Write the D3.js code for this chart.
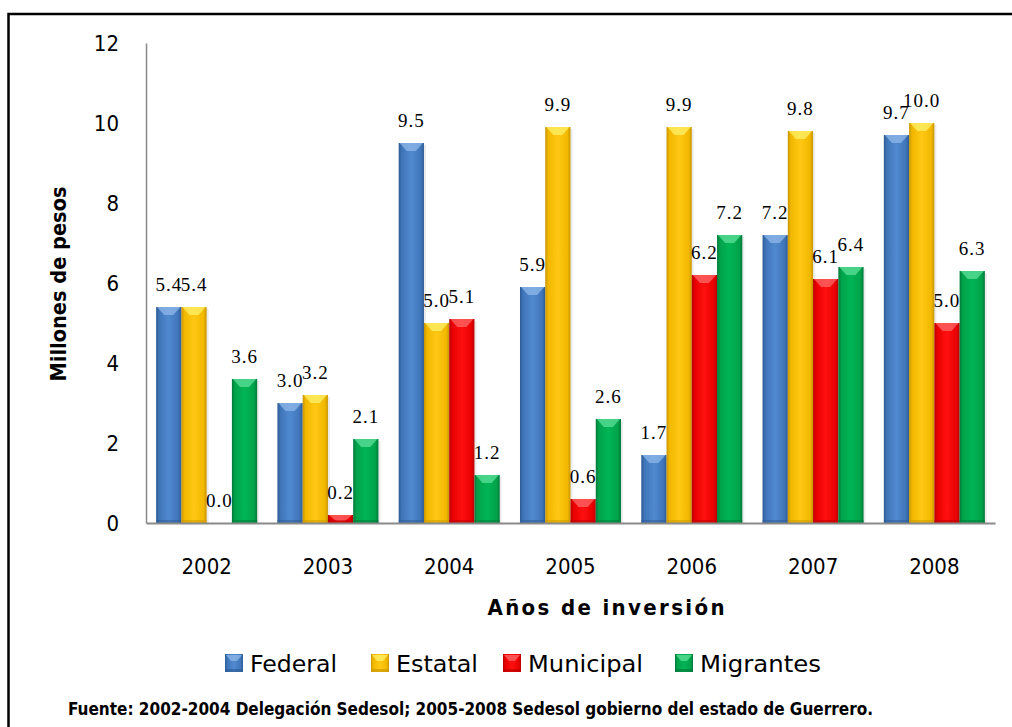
<!DOCTYPE html>
<html>
<head>
<meta charset="utf-8">
<script src="https://cdn.jsdelivr.net/npm/d3@7"></script>
<style>
  html, body { margin: 0; padding: 0; background: #fff; }
  svg { display: block; }
</style>
</head>
<body>
<svg id="chart" width="1012" height="727"></svg>
<script>
// ---- Data ----
const years = ["2002", "2003", "2004", "2005", "2006", "2007", "2008"];
const seriesNames = ["Federal", "Estatal", "Municipal", "Migrantes"];
const federal   = [5.4, 3.0, 9.5, 5.9, 1.7, 7.2, 9.7];
const estatal   = [5.4, 3.2, 5.0, 9.9, 9.9, 9.8, 10.0];
const municipal = [0.0, 0.2, 5.1, 0.6, 6.2, 6.1, 5.0];
const migrantes = [3.6, 2.1, 1.2, 2.6, 7.2, 6.4, 6.3];
const yTicks = [0, 2, 4, 6, 8, 10, 12];
const yTitle = "Millones de pesos";
const xTitle = "Años de inversión";
const sourceNote = "Fuente: 2002-2004 Delegación Sedesol; 2005-2008 Sedesol gobierno del estado de Guerrero.";

const seriesValues = [federal, estatal, municipal, migrantes];
const palette = {
  Federal:   { dark: "#2c5a94", mid: "#3f75b8", light: "#5189d0", cap: "#8fb8ea" },
  Estatal:   { dark: "#c79500", mid: "#f2b800", light: "#ffc814", cap: "#fff06a" },
  Municipal: { dark: "#b80000", mid: "#e80000", light: "#ff1010", cap: "#ff6a6a" },
  Migrantes: { dark: "#00783a", mid: "#00a24a", light: "#00b555", cap: "#5de09a" }
};

const svg = d3.select("#chart");
const defs = svg.append("defs");
seriesNames.forEach((s, i) => {
  const c = palette[s];
  const g = defs.append("linearGradient").attr("id", "grad" + i)
    .attr("x1", "0%").attr("x2", "100%").attr("y1", "0%").attr("y2", "0%");
  g.append("stop").attr("offset", "0%").attr("stop-color", c.dark);
  g.append("stop").attr("offset", "12%").attr("stop-color", c.mid);
  g.append("stop").attr("offset", "50%").attr("stop-color", c.light);
  g.append("stop").attr("offset", "88%").attr("stop-color", c.mid);
  g.append("stop").attr("offset", "100%").attr("stop-color", c.dark);
});

// Outer frame (left & top visible, right/bottom clipped)
svg.append("rect").attr("x", 8.5).attr("y", 14).attr("width", 1010).attr("height", 730)
  .attr("fill", "none").attr("stroke", "#000").attr("stroke-width", 2.5);

// ---- Scales ----
const plotLeft = 146, plotRight = 995, plotTop = 43, plotBottom = 523;
const x0 = d3.scaleBand().domain(years).range([plotLeft, plotRight])
  .paddingInner(0.167).paddingOuter(0.0835);
const x1 = d3.scaleBand().domain(seriesNames).range([0, x0.bandwidth()]);
const y = d3.scaleLinear().domain([0, 12]).range([plotBottom, plotTop]);

// ---- Axes ----
const yAxis = svg.append("g").attr("transform", `translate(${plotLeft},0)`)
  .call(d3.axisLeft(y).tickValues(yTicks).tickSize(0).tickPadding(27).tickFormat(d3.format("d")));
yAxis.select(".domain").attr("stroke", "#8a8a8a").attr("stroke-width", 1.5);
yAxis.selectAll("text").attr("font-family", "'DejaVu Sans Condensed', 'DejaVu Sans', sans-serif")
  .attr("font-size", 22).attr("fill", "#000");

// ---- Bars ----
const groups = svg.append("g").selectAll("g").data(years).join("g")
  .attr("transform", d => `translate(${x0(d)},0)`);

seriesNames.forEach((s, si) => {
  const vals = seriesValues[si];
  const c = palette[s];
  const w = x1.bandwidth();
  groups.each(function(yr, yi) {
    const v = vals[yi];
    const g = d3.select(this);
    const bx = x1(s), by = y(v), bh = y(0) - y(v);
    if (bh > 0) {
      // soft shadow on right
      g.append("rect").attr("x", bx + w).attr("y", by + 2).attr("width", 2).attr("height", Math.max(0, bh - 2))
        .attr("fill", "#000").attr("opacity", 0.08);
      g.append("rect").attr("x", bx).attr("y", by).attr("width", w).attr("height", bh)
        .attr("fill", `url(#grad${si})`);
      if (bh > 6) {
        const capH = Math.min(8, bh - 2);
        g.append("path")
          .attr("d", `M${bx + 1},${by} L${bx + w - 1},${by} L${bx + w * 0.68},${by + capH} L${bx + w * 0.32},${by + capH} Z`)
          .attr("fill", c.cap).attr("opacity", 0.75);
        g.append("rect").attr("x", bx).attr("y", by + bh - 3).attr("width", w).attr("height", 3)
          .attr("fill", c.dark).attr("opacity", 0.5);
      }
    }
    g.append("text")
      .attr("x", bx + w / 2).attr("y", by - 16)
      .attr("text-anchor", "middle")
      .attr("font-family", "'Liberation Serif', 'Times New Roman', serif")
      .attr("font-size", 19).attr("letter-spacing", 1)
      .attr("fill", "#000")
      .text(d3.format(".1f")(v));
  });
});

// x axis (drawn after bars so baseline sits on top)
const xAxis = svg.append("g").attr("transform", `translate(0,${plotBottom})`)
  .call(d3.axisBottom(x0).tickSize(0).tickPadding(35).tickSizeOuter(0));
xAxis.select(".domain").attr("stroke", "#8a8a8a").attr("stroke-width", 2);
xAxis.selectAll("text").attr("font-family", "'DejaVu Sans Condensed', 'DejaVu Sans', sans-serif")
  .attr("font-size", 22).attr("fill", "#000");

// ---- Titles ----
svg.append("text")
  .attr("transform", `translate(66,284) rotate(-90)`)
  .attr("text-anchor", "middle")
  .attr("font-family", "'DejaVu Sans Condensed', 'DejaVu Sans', sans-serif")
  .attr("font-weight", "bold").attr("font-size", 22)
  .attr("textLength", 195).attr("lengthAdjust", "spacingAndGlyphs")
  .text(yTitle);

svg.append("text")
  .attr("x", 606).attr("y", 615)
  .attr("text-anchor", "middle")
  .attr("font-family", "'DejaVu Sans Condensed', 'DejaVu Sans', sans-serif")
  .attr("font-weight", "bold").attr("font-size", 22)
  .attr("textLength", 237).attr("lengthAdjust", "spacing")
  .text(xTitle);

// ---- Legend ----
const legendX = [225, 371, 503, 675];
const legendTextW = [87, 82, 115, 121];
const legend = svg.append("g");
seriesNames.forEach((s, i) => {
  const c = palette[s];
  const lx = legendX[i], ly = 654;
  legend.append("rect").attr("x", lx).attr("y", ly).attr("width", 18).attr("height", 18)
    .attr("fill", `url(#grad${i})`);
  legend.append("path")
    .attr("d", `M${lx + 1},${ly + 1} L${lx + 17},${ly + 1} L${lx + 12},${ly + 7} L${lx + 6},${ly + 7} Z`)
    .attr("fill", c.cap).attr("opacity", 0.75);
  legend.append("rect").attr("x", lx).attr("y", ly + 15).attr("width", 18).attr("height", 3)
    .attr("fill", c.dark).attr("opacity", 0.6);
  legend.append("text")
    .attr("x", lx + 25).attr("y", ly + 18)
    .attr("font-family", "'DejaVu Sans Condensed', 'DejaVu Sans', sans-serif")
    .attr("font-size", 23).attr("fill", "#000")
    .attr("textLength", legendTextW[i]).attr("lengthAdjust", "spacingAndGlyphs")
    .text(s);
});

// ---- Source note ----
svg.append("text")
  .attr("x", 68).attr("y", 715)
  .attr("font-family", "'DejaVu Sans Condensed', 'DejaVu Sans', sans-serif")
  .attr("font-weight", "bold").attr("font-size", 18)
  .attr("textLength", 805).attr("lengthAdjust", "spacingAndGlyphs")
  .text(sourceNote);
</script>
</body>
</html>
